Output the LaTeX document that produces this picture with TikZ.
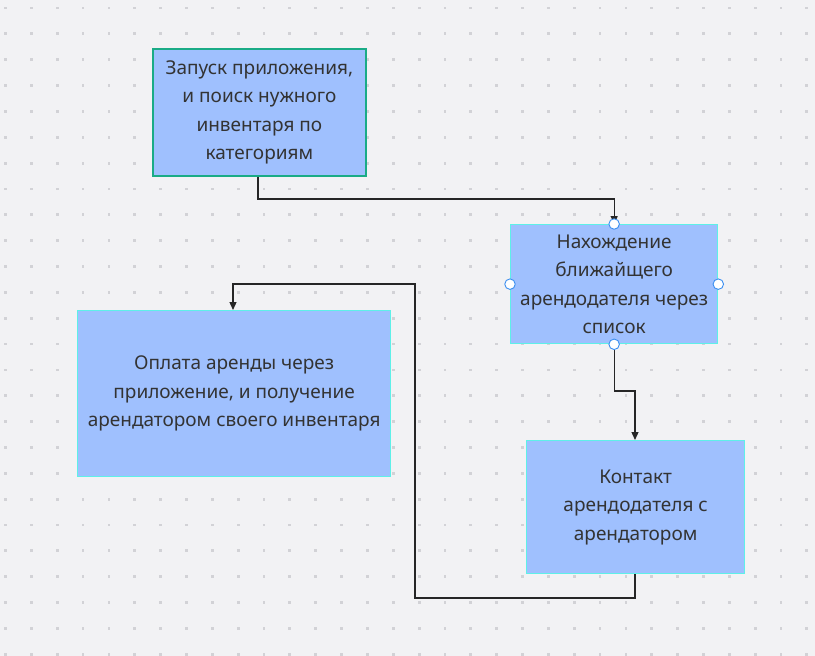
\documentclass[tikz,border=0pt]{standalone}
\usepackage{fontspec}
\setmainfont{Noto Sans}
\usetikzlibrary{arrows.meta}
\definecolor{bg}{HTML}{F2F2F4}
\definecolor{dotc}{HTML}{D2D2D6}
\definecolor{boxfill}{HTML}{9FC0FE}
\definecolor{greenb}{HTML}{1AAB86}
\definecolor{cyanb}{HTML}{5EF0E8}
\definecolor{txt}{HTML}{333333}
\definecolor{handle}{HTML}{3B8EF0}
\tikzset{
  stepbox/.style={draw=cyanb, line width=1.3pt, fill=boxfill, text=txt, align=center, inner sep=0pt,
    font=\fontsize{19pt}{28.5pt}\selectfont},
  conn/.style={line width=1.3pt, draw=black!85},
  arr/.style={conn, -{Triangle[length=8pt,width=7pt]}},
  hdl/.style={circle, draw=handle, fill=white, line width=0.9pt, minimum size=10.5pt, inner sep=0pt}
}
\begin{document}
\begin{tikzpicture}[x=1pt,y=-1pt]
\fill[bg] (0,0) rectangle (815,656);
\useasboundingbox (0,0) rectangle (815,656);
\foreach \i in {0,...,31}{
  \foreach \j in {0,...,25}{
    \fill[dotc] ({5.5+25.85*\i-1.4},{8+25.85*\j-1.4}) rectangle ++(2.8,2.8);
  }
}
% boxes
\node[stepbox, draw=greenb, line width=1.8pt, minimum width=213pt, minimum height=127pt, anchor=north west] (b1) at (152,48)
  {Запуск приложения,\\и поиск нужного\\инвентаря по\\категориям};
\node[stepbox, minimum width=207pt, minimum height=119pt, anchor=north west] (b2) at (510,224)
  {Нахождение\\ближайщего\\арендодателя через\\список};
\node[stepbox, minimum width=313pt, minimum height=166pt, anchor=north west] (b3) at (77,310)
  {Оплата аренды через\\приложение, и получение\\арендатором своего инвентаря};
\node[stepbox, minimum width=218pt, minimum height=133pt, anchor=north west] (b4) at (526,440)
  {Контакт\\арендодателя с\\арендатором};
% connectors
\coordinate (c1) at (258,199);
\draw[arr] (b1.south -| c1) -- (c1) -- (c1 -| b2.north) -- (b2.north);
\coordinate (d1) at (635,391);
\draw[arr] (b2.south) -- (b2.south |- d1) -- (d1) -- (b4.north -| d1);
\coordinate (e0) at (635,573);
\coordinate (e1) at (635,598);
\coordinate (e2) at (415,598);
\coordinate (e3) at (415,284);
\coordinate (e4) at (233,284);
\draw[arr] (b4.south -| e0) -- (e1) -- (e2) -- (e3) -- (e4) -- (b3.north -| e4);
% handles
\node[hdl] (h1) at (b2.north) {};
\node[hdl] (h2) at (b2.west) {};
\node[hdl] (h3) at (b2.east) {};
\node[hdl] (h4) at (b2.south) {};
\end{tikzpicture}
\end{document}
